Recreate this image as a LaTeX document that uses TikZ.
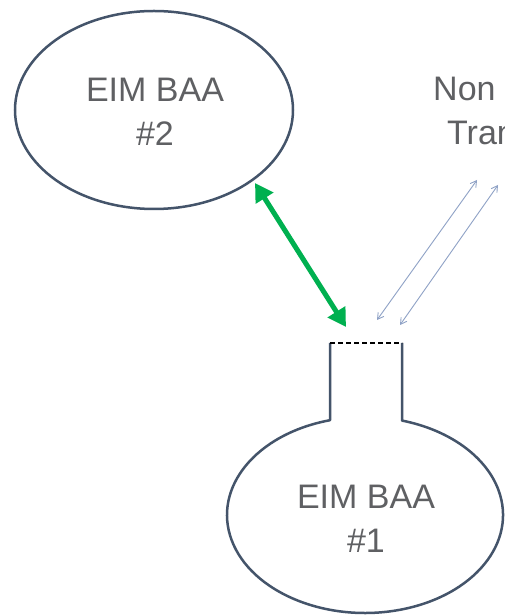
\documentclass[tikz,border=0pt]{standalone}
\usepackage{fontspec}
\setmainfont{Liberation Sans}
\usetikzlibrary{arrows.meta,shapes.geometric}
\definecolor{outl}{HTML}{44546A}
\definecolor{txt}{HTML}{5F6063}
\definecolor{grn}{HTML}{00B050}
\definecolor{thin}{HTML}{8FA2C6}
\begin{document}
\begin{tikzpicture}[x=1pt,y=1pt,
  lbl/.style={text=txt,font=\fontsize{34}{44}\selectfont,align=center,inner sep=0pt},
  outline/.style={draw=outl,line width=2.5pt},
  greenarrow/.style={draw=grn,line width=5pt,{Triangle[length=18pt,width=20pt]}-{Triangle[length=18pt,width=20pt]}},
  thinarrow/.style={draw=thin,line width=0.9pt,{Straight Barb[length=6pt,width=7pt]}-{Straight Barb[length=6pt,width=7pt]}}]
\useasboundingbox (0,0) rectangle (505,616);
\fill[white] (0,0) rectangle (505,616);
% EIM BAA #2
\node[ellipse,outline,minimum width=278pt,minimum height=198pt,inner sep=0pt] (e2) at (154,506) {};
\node[lbl] (t2) at (155,504) {EIM BAA\\\#2};
% EIM BAA #1 with neck
\coordinate (nl) at (330,273);
\coordinate (nr) at (402,273);
\draw[outline,line join=round] (nl) -- (330,195.8) arc[start angle=104.7,end angle=434.45,x radius=138,y radius=98] -- (nr);
\draw[black,line width=1.6pt,dash pattern=on 5pt off 3pt] (nl) -- (nr);
\node[lbl] (t1) at (366,97.5) {EIM BAA\\\#1};
% Non / Tran text
\node[lbl,anchor=base west] (non) at (433,515) {Non};
\node[lbl,anchor=base west] (tran) at (447,471) {Tran};
% arrows
\coordinate (g1) at (255,433);
\coordinate (g2) at (346,289);
\draw[greenarrow] (g1) -- (g2);
\coordinate (a1s) at (377,296);
\coordinate (a1e) at (477,436);
\coordinate (a2s) at (400,291);
\coordinate (a2e) at (498,431);
\draw[thinarrow] (a1s) -- (a1e);
\draw[thinarrow] (a2s) -- (a2e);
\end{tikzpicture}
\end{document}
